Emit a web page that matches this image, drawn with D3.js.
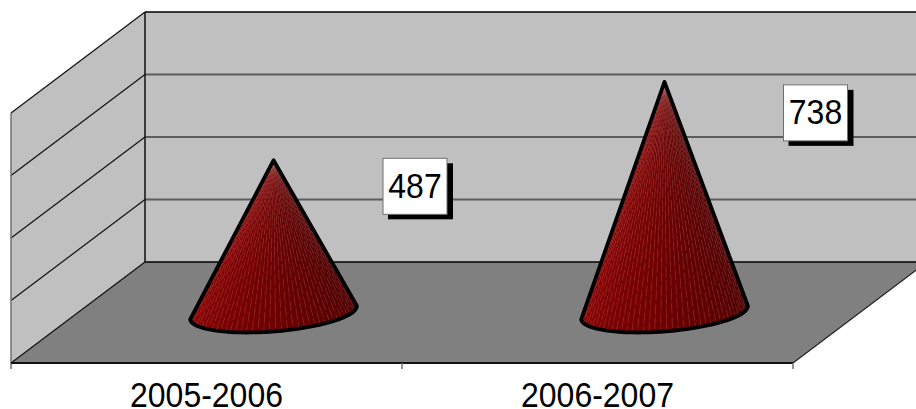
<!DOCTYPE html>
<html>
<head>
<meta charset="utf-8">
<script src="https://cdn.jsdelivr.net/npm/d3@7"></script>
<style>
  html, body { margin: 0; padding: 0; background: #fff; overflow: hidden; }
  svg { display: block; }
  text { font-family: "Liberation Sans", Arial, sans-serif; }
</style>
</head>
<body>
<script>
const categories = ["2005-2006", "2006-2007"];
const values = [487, 738];
const yTicks = [0, 200, 400, 600, 800];

const width = 916;
const height = 409;

// depth of the 3d box
const depthX = 134;
const depthY = -101;

// front plane of the box
const xScale = d3.scaleBand().domain(categories).range([11, 793]);
const yScale = d3.scaleLinear().domain([0, 800]).range([363, 113]);

// data labels sit a bit off the cone tip
const labelNudge = [
  [141.5, 26],
  [151, 31],
];

const svg = d3
  .select("body")
  .append("svg")
  .attr("width", width)
  .attr("height", height);

const x0 = xScale.range()[0];
const x1 = xScale.range()[1];
const yBase = yScale(0);
const yTop = yScale(800);

const wall = svg.append("g");

// side wall
wall
  .append("path")
  .attr(
    "d",
    d3.line()([
      [x0, yBase],
      [x0 + depthX, yBase + depthY],
      [x0 + depthX, yTop + depthY],
      [x0, yTop],
    ]) + "Z"
  )
  .attr("fill", "#c0c0c0");

// back wall
wall
  .append("rect")
  .attr("x", x0 + depthX)
  .attr("y", yTop + depthY)
  .attr("width", width - x0 - depthX)
  .attr("height", yBase - yTop)
  .attr("fill", "#c0c0c0");

// floor
wall
  .append("path")
  .attr(
    "d",
    d3.line()([
      [x0, yBase],
      [x1, yBase],
      [x1 + depthX, yBase + depthY],
      [x0 + depthX, yBase + depthY],
    ]) + "Z"
  )
  .attr("fill", "#808080");

// grid lines on both walls
wall
  .selectAll(".side-grid")
  .data(yTicks)
  .enter()
  .append("line")
  .attr("class", "side-grid")
  .attr("x1", x0)
  .attr("y1", (d) => yScale(d))
  .attr("x2", x0 + depthX)
  .attr("y2", (d) => yScale(d) + depthY)
  .attr("stroke", "#111")
  .attr("stroke-width", 1.2);

wall
  .selectAll(".back-grid")
  .data(yTicks)
  .enter()
  .append("line")
  .attr("class", "back-grid")
  .attr("x1", x0 + depthX)
  .attr("y1", (d) => yScale(d) + depthY)
  .attr("x2", width)
  .attr("y2", (d) => yScale(d) + depthY)
  .attr("stroke", (d) => (d === 0 || d === 800 ? "#000" : "#5c5c5c"))
  .attr("stroke-width", (d) => (d === 0 || d === 800 ? 1.5 : 2));

// box edges
wall
  .append("line")
  .attr("x1", x0 + depthX)
  .attr("y1", yTop + depthY)
  .attr("x2", x0 + depthX)
  .attr("y2", yBase + depthY)
  .attr("stroke", "#111")
  .attr("stroke-width", 1.5);

wall
  .append("line")
  .attr("x1", x1)
  .attr("y1", yBase)
  .attr("x2", x1 + depthX)
  .attr("y2", yBase + depthY)
  .attr("stroke", "#222")
  .attr("stroke-width", 1.2);

wall
  .append("line")
  .attr("x1", x0)
  .attr("y1", yTop)
  .attr("x2", x0)
  .attr("y2", yBase + 6)
  .attr("stroke", "#707070")
  .attr("stroke-width", 1.5);

wall
  .append("line")
  .attr("x1", x0)
  .attr("y1", yBase)
  .attr("x2", x1)
  .attr("y2", yBase)
  .attr("stroke", "#111")
  .attr("stroke-width", 2);

// tick marks fall between the categories
wall
  .selectAll(".edge-tick")
  .data([xScale.step(), xScale.step() * 2])
  .enter()
  .append("line")
  .attr("class", "edge-tick")
  .attr("x1", (d) => x0 + d)
  .attr("x2", (d) => x0 + d)
  .attr("y1", yBase)
  .attr("y2", yBase + 6)
  .attr("stroke", "#707070")
  .attr("stroke-width", 1.5);

// category labels, the original type is a little taller than wide
const xAxis = d3.axisBottom(xScale).tickSize(0).tickPadding(0);
const axisGroup = svg
  .append("g")
  .attr("transform", `translate(0 ${yBase})`)
  .call(xAxis);
axisGroup.select(".domain").remove();
axisGroup
  .selectAll("text")
  .attr("y", 0)
  .attr("dy", 0)
  .attr("transform", "translate(0 43.5) scale(1 1.07)")
  .attr("font-size", 32)
  .attr("font-family", '"Liberation Sans", Arial, sans-serif')
  .attr("fill", "#000");

// cones stand in the middle of the floor depth
const offX = depthX / 2;
const offY = depthY / 2;
const radiusX = 79;
const tiltX = 26.5;
const tiltY = -20;
const gores = 44;
const startAngle = (200 * Math.PI) / 180;
const endAngle = (380 * Math.PI) / 180;

const shade = d3
  .scaleLinear()
  .domain([0, 0.45, 1])
  .range(["#8e0404", "#700000", "#480000"]);

const cones = svg
  .selectAll(".cone")
  .data(values)
  .enter()
  .append("g")
  .attr("class", "cone");

cones.each(function (d, i) {
  const g = d3.select(this);
  const cx = xScale(categories[i]) + xScale.step() / 2 + offX;
  const cy = yBase + offY;
  const tip = [cx, yScale(d) + offY];

  const rim = d3.range(gores + 1).map((k) => {
    const t = startAngle + ((endAngle - startAngle) * k) / gores;
    return [
      cx + radiusX * Math.cos(t) + tiltX * Math.sin(t),
      cy + tiltY * Math.sin(t),
    ];
  });

  g.selectAll(".gore")
    .data(d3.range(gores))
    .enter()
    .append("path")
    .attr("class", "gore")
    .attr("d", (k) => d3.line()([tip, rim[k], rim[k + 1]]) + "Z")
    .attr("fill", (k) => shade(k / gores))
    .attr("stroke", (k) => shade(k / gores))
    .attr("stroke-width", 0.5);

  // seams are broken up unevenly, offsets differ so no rings show
  g.selectAll(".seam")
    .data(d3.range(1, gores))
    .enter()
    .append("line")
    .attr("class", "seam")
    .attr("x1", tip[0])
    .attr("y1", tip[1])
    .attr("x2", (k) => rim[k][0])
    .attr("y2", (k) => rim[k][1])
    .attr("stroke", "#e0b0b0")
    .attr("stroke-opacity", 0.25)
    .attr("stroke-width", 0.7)
    .attr("stroke-dasharray", "11 3")
    .attr("stroke-dashoffset", (k) => (k * 5) % 14);

  g.append("path")
    .attr("d", d3.line()([tip, ...rim]) + "Z")
    .attr("fill", "none")
    .attr("stroke", "#000")
    .attr("stroke-width", 3.8)
    .attr("stroke-linejoin", "round");
});

// value labels
const labels = svg
  .selectAll(".value-label")
  .data(values)
  .enter()
  .append("g")
  .attr("class", "value-label")
  .attr("transform", (d, i) => {
    const cx = xScale(categories[i]) + xScale.step() / 2 + offX;
    return `translate(${cx + labelNudge[i][0]} ${
      yScale(d) + offY + labelNudge[i][1]
    })`;
  });

labels
  .append("rect")
  .attr("x", -27)
  .attr("y", -23)
  .attr("width", 65)
  .attr("height", 56)
  .attr("fill", "#000");

labels
  .append("rect")
  .attr("x", -32)
  .attr("y", -28)
  .attr("width", 64)
  .attr("height", 56)
  .attr("fill", "#fff")
  .attr("stroke", "#707070")
  .attr("stroke-width", 1);

labels
  .append("text")
  .attr("text-anchor", "middle")
  .attr("transform", "translate(0 11.5) scale(1 1.07)")
  .attr("font-size", 32)
  .attr("fill", "#000")
  .text((d) => d);
</script>
</body>
</html>
